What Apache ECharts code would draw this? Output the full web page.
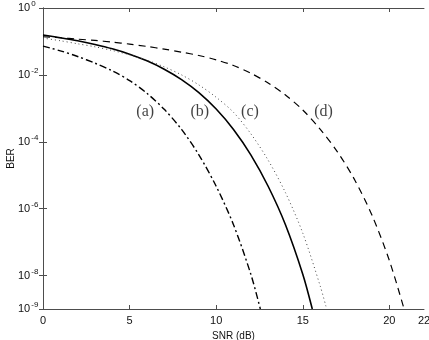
<!DOCTYPE html>
<html>
<head>
<meta charset="utf-8">
<script src="https://cdn.jsdelivr.net/npm/echarts@6/dist/echarts.min.js"></script>
<style>html,body{margin:0;padding:0;background:#fff}#c{width:429px;height:340px}</style>
</head>
<body>
<div id="c"></div>
<script>
// ---- data ----
var snrA = [0, 1, 2, 3, 4, 5, 6, 7, 8, 9, 10, 11, 12, 12.55];
var berA = [0.0724, 0.0525, 0.0355, 0.0224, 0.0132, 6.76e-3, 2.82e-3, 9.33e-4, 2.34e-4, 4.07e-5, 4.68e-6, 3.31e-7, 1.10e-8, 1e-9];

var snrB = [0, 1, 2, 3, 4, 5, 6, 7, 8, 9, 10, 11, 12, 13, 14, 15, 15.55];
var berB = [0.155, 0.129, 0.105, 0.0813, 0.0603, 0.0417, 0.0263, 0.0148, 7.24e-3, 2.95e-3, 9.55e-4, 2.34e-4, 4.07e-5, 4.68e-6, 3.31e-7, 1.10e-8, 1e-9];

var snrC = [0, 1, 2, 3, 4, 5, 6, 7, 8, 9, 10, 11, 12, 13, 14, 15, 16, 16.38];
var berC = [0.126, 0.105, 0.0851, 0.0692, 0.0537, 0.0398, 0.0275, 0.0174, 0.01, 5.01e-3, 2.14e-3, 7.59e-4, 1.74e-4, 2.82e-5, 3.02e-6, 1.86e-7, 5.01e-9, 1e-9];

var snrD = [0, 1, 2, 3, 4, 5, 6, 7, 8, 9, 10, 11, 12, 13, 14, 15, 16, 17, 18, 19, 20, 20.85];
var berD = [0.138, 0.129, 0.117, 0.107, 0.0955, 0.0832, 0.0708, 0.0589, 0.0479, 0.038, 0.0282, 0.0191, 0.0112, 5.75e-3, 2.51e-3, 8.91e-4, 2.4e-4, 5.01e-5, 7.24e-6, 6.31e-7, 2.82e-8, 1e-9];

var curveNames = ['(a)', '(b)', '(c)', '(d)'];
var labelSnr = [5.9, 9.05, 11.95, 16.2];
var labelBer = [7.8e-4, 7.8e-4, 7.8e-4, 7.8e-4];

var xTickValues = [0, 5, 10, 15, 20, 22];
var yTickValues = [1, 1e-2, 1e-4, 1e-6, 1e-8, 1e-9];

function pairs(xs, ys) { return xs.map(function (x, i) { return [x, ys[i]]; }); }

var axisCol = '#4d4d4d';
var chart = echarts.init(document.getElementById('c'), null, { renderer: 'canvas' });

function xAx(pos, showLabel) {
  return {
    type: 'value', position: pos, min: 0, max: 22,
    name: showLabel ? 'SNR (dB)' : '', nameLocation: 'middle', nameGap: 18,
    nameTextStyle: { fontFamily: 'Liberation Sans', fontSize: 10, color: '#111' },
    axisLine: { show: true, lineStyle: { color: axisCol, width: 1 } },
    axisTick: { show: true, inside: true, length: 4, lineStyle: { color: axisCol }, customValues: [0, 5, 10, 15, 20] },
    axisLabel: { show: showLabel, customValues: xTickValues, margin: 6, fontFamily: 'Liberation Sans', fontSize: 11, color: '#111' },
    splitLine: { show: false }
  };
}
function yAx(pos, showLabel) {
  return {
    type: 'log', logBase: 10, position: pos, min: 1e-9, max: 1,
    name: showLabel ? 'BER' : '', nameLocation: 'middle', nameGap: 27, nameRotate: 90, nameMoveOverlap: false,
    nameTextStyle: { fontFamily: 'Liberation Sans', fontSize: 10, color: '#111' },
    axisLine: { show: true, lineStyle: { color: axisCol, width: 1 } },
    axisTick: { show: true, inside: true, length: 4, lineStyle: { color: axisCol }, customValues: yTickValues },
    axisLabel: {
      show: showLabel, customValues: yTickValues, margin: 25, align: 'left',
      formatter: function (v) { return '{b|10}{s|' + Math.round(Math.log10(v)) + '}'; },
      rich: {
        b: { fontFamily: 'Liberation Sans', fontSize: 11, color: '#111' },
        s: { fontFamily: 'Liberation Sans', fontSize: 8, color: '#111', padding: [0, 0, 8, 1] }
      }
    },
    splitLine: { show: false }
  };
}

var option = {
  animation: false,
  backgroundColor: '#fff',
  grid: { left: 43, right: 5, top: 8, bottom: 31, containLabel: false, outerBoundsMode: 'none' },
  xAxis: [xAx('bottom', true), xAx('top', false)],
  yAxis: [yAx('left', true), yAx('right', false)],
  series: [
    { type: 'line', name: '(a)', data: pairs(snrA, berA), showSymbol: false, smooth: 0.3,
      lineStyle: { color: '#000', width: 1.4, type: [7, 3, 2, 3] } },
    { type: 'line', name: '(b)', data: pairs(snrB, berB), showSymbol: false, smooth: 0.3,
      lineStyle: { color: '#000', width: 1.6, type: 'solid' } },
    { type: 'line', name: '(c)', data: pairs(snrC, berC), showSymbol: false, smooth: 0.3,
      lineStyle: { color: '#444', width: 1, type: [1, 3] } },
    { type: 'line', name: '(d)', data: pairs(snrD, berD), showSymbol: false, smooth: 0.3,
      lineStyle: { color: '#000', width: 1.2, type: [7, 5] } },
    { type: 'scatter', name: 'labels', symbolSize: 0, silent: true,
      data: labelSnr.map(function (x, i) { return { value: [x, labelBer[i]], name: curveNames[i] }; }),
      label: { show: true, position: 'inside', formatter: '{b}', fontFamily: 'Liberation Serif', fontSize: 16, color: '#111' } }
  ]
};
chart.setOption(option);
</script>
</body>
</html>
